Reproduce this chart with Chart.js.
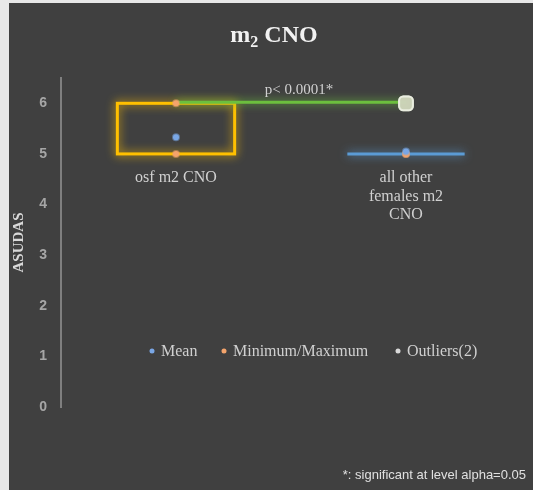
<!DOCTYPE html>
<html>
<head>
<meta charset="utf-8">
<script src="https://cdn.jsdelivr.net/npm/chart.js@4.4.1/dist/chart.umd.min.js"></script>
<style>
  html, body { margin: 0; padding: 0; background: #fff; }
  #wrap { width: 533px; height: 490px; }
</style>
</head>
<body>
<div id="wrap"><canvas id="boxChart" width="533" height="490"></canvas></div>
<script>
// group labels (drawn under each box)
const categories = [['osf m2 CNO'], ['all other', 'females m2', 'CNO']];
// summary stats per group
const meanValues = [5.33, 5.05];
const minValues = [5, 5];
const maxValues = [6, 5];
const q1Values = [5, 5];
const q3Values = [6, 5];
const outlierValues = [[], [6, 6]];
const boxColors = ['#ffc000', '#5b9bd5'];
const yTicks = [0, 1, 2, 3, 4, 5, 6];
const sigLabel = 'p< 0.0001*';
const legendLabels = ['Mean', 'Minimum/Maximum', 'Outliers(2)'];

const SERIF = '"Liberation Serif", "Times New Roman", serif';
const SANS = '"Liberation Sans", Arial, sans-serif';

const meanPts = meanValues.map((v, i) => ({ x: i, y: v }));
const minMaxPts = [];
minValues.forEach((v, i) => { minMaxPts.push({ x: i, y: v }); minMaxPts.push({ x: i, y: maxValues[i] }); });
const outlierPts = [];
outlierValues.forEach((arr, i) => arr.forEach(v => outlierPts.push({ x: i, y: v })));

const decor = {
  id: 'decor',
  beforeDraw(chart) {
    const ctx = chart.ctx;
    ctx.save();
    ctx.fillStyle = '#e8e8e8';
    ctx.fillRect(0, 0, chart.width, chart.height);
    ctx.fillStyle = '#404040';
    ctx.fillRect(9, 3, chart.width - 9, chart.height - 3);
    ctx.restore();
  },
  beforeDatasetsDraw(chart) {
    const ctx = chart.ctx;
    const xs = chart.scales.x, ys = chart.scales.y;
    const half = (xs.getPixelForValue(1) - xs.getPixelForValue(0)) * 0.255;
    ctx.save();
    // boxes
    categories.forEach((c, i) => {
      const cx = xs.getPixelForValue(i);
      const top = ys.getPixelForValue(q3Values[i]);
      const bot = ys.getPixelForValue(q1Values[i]);
      ctx.strokeStyle = boxColors[i];
      ctx.lineWidth = 3;
      ctx.shadowColor = boxColors[i];
      ctx.shadowBlur = 10;
      if (bot - top < 1) {
        ctx.beginPath();
        ctx.moveTo(cx - half, top);
        ctx.lineTo(cx + half, top);
        ctx.stroke();
      } else {
        ctx.strokeRect(cx - half, top, half * 2, bot - top);
      }
    });
    // significance bar from group 1 max to group 2 outliers
    const y6 = ys.getPixelForValue(maxValues[0]);
    ctx.strokeStyle = '#6cbf3e';
    ctx.shadowColor = '#6cbf3e';
    ctx.shadowBlur = 8;
    ctx.lineWidth = 3;
    ctx.beginPath();
    ctx.moveTo(xs.getPixelForValue(0), y6 - 1);
    ctx.lineTo(xs.getPixelForValue(1), y6 - 1);
    ctx.stroke();
    ctx.shadowBlur = 0;
    ctx.fillStyle = '#d0d0d0';
    ctx.font = '15px ' + SERIF;
    ctx.textAlign = 'center';
    ctx.textBaseline = 'middle';
    ctx.fillText(sigLabel, (xs.getPixelForValue(0) + xs.getPixelForValue(1)) / 2 + 8, y6 - 13);
    ctx.restore();
  },
  afterDraw(chart) {
    const ctx = chart.ctx;
    const xs = chart.scales.x;
    ctx.save();
    // title with subscript
    ctx.fillStyle = '#f2f2f2';
    ctx.textBaseline = 'alphabetic';
    ctx.textAlign = 'left';
    ctx.font = 'bold 24px ' + SERIF;
    const w1 = ctx.measureText('m').width;
    ctx.font = 'bold 16px ' + SERIF;
    const w2 = ctx.measureText('2').width;
    ctx.font = 'bold 24px ' + SERIF;
    const w3 = ctx.measureText(' CNO').width;
    let tx = 274 - (w1 + w2 + w3) / 2;
    ctx.fillText('m', tx, 42);
    ctx.font = 'bold 16px ' + SERIF;
    ctx.fillText('2', tx + w1, 47);
    ctx.font = 'bold 24px ' + SERIF;
    ctx.fillText(' CNO', tx + w1 + w2, 42);

    // group labels
    ctx.fillStyle = '#d0d0d0';
    ctx.font = '16px ' + SERIF;
    ctx.textAlign = 'center';
    ctx.textBaseline = 'middle';
    categories.forEach((lines, i) => {
      const cx = xs.getPixelForValue(i);
      lines.forEach((l, k) => ctx.fillText(l, cx, 178 + k * 18.5));
    });

    // legend
    const items = [
      { x: 152, color: '#7aa7e6' },
      { x: 224, color: '#f4a46c' },
      { x: 398, color: '#d9d9d9' }
    ];
    ctx.textAlign = 'left';
    items.forEach((it, i) => {
      ctx.fillStyle = it.color;
      ctx.beginPath();
      ctx.arc(it.x, 351, 2.5, 0, Math.PI * 2);
      ctx.fill();
      ctx.fillStyle = '#d0d0d0';
      ctx.fillText(legendLabels[i], it.x + 9, 352);
    });

    // footnote
    ctx.font = '13px ' + SANS;
    ctx.textAlign = 'right';
    ctx.fillStyle = '#e0e0e0';
    ctx.fillText('*: significant at level alpha=0.05', 526, 475);
    ctx.restore();
  }
};

new Chart(document.querySelector('#boxChart'), {
  type: 'scatter',
  data: {
    datasets: [
      {
        label: 'Outliers',
        data: outlierPts,
        pointStyle: 'rectRounded',
        pointRadius: 8,
        backgroundColor: 'rgba(205, 212, 185, 0.85)',
        borderColor: 'rgba(235, 238, 225, 0.9)',
        borderWidth: 2
      },
      {
        label: 'Mean',
        data: meanPts,
        pointRadius: 3,
        backgroundColor: '#7aa7e6',
        borderColor: 'rgba(122, 167, 230, 0.5)',
        borderWidth: 2
      },
      {
        label: 'Minimum/Maximum',
        data: minMaxPts,
        pointRadius: 3,
        backgroundColor: '#f4a46c',
        borderColor: 'rgba(244, 164, 108, 0.5)',
        borderWidth: 2
      }
    ]
  },
  options: {
    responsive: false,
    animation: false,
    layout: { padding: { left: 0, right: 12, top: 78, bottom: 83 } },
    plugins: {
      legend: { display: false },
      tooltip: { enabled: false }
    },
    scales: {
      x: { type: 'linear', min: -0.5, max: 1.5, display: false },
      y: {
        min: 0,
        max: 6.5,
        afterBuildTicks: (s) => { s.ticks = yTicks.map(v => ({ value: v })); },
        afterFit: (s) => { s.width = 61; },
        grid: { display: false, drawTicks: false },
        border: { display: true, color: '#7f7f7f', width: 2 },
        ticks: {
          padding: 14,
          color: '#a6a6a6',
          font: { family: SANS, size: 14, weight: 'bold' }
        },
        title: {
          display: true,
          text: 'ASUDAS',
          color: '#d9d9d9',
          padding: { top: 10, bottom: 0 },
          font: { family: SERIF, size: 15, weight: 'bold' }
        }
      }
    }
  },
  plugins: [decor]
});
</script>
</body>
</html>
